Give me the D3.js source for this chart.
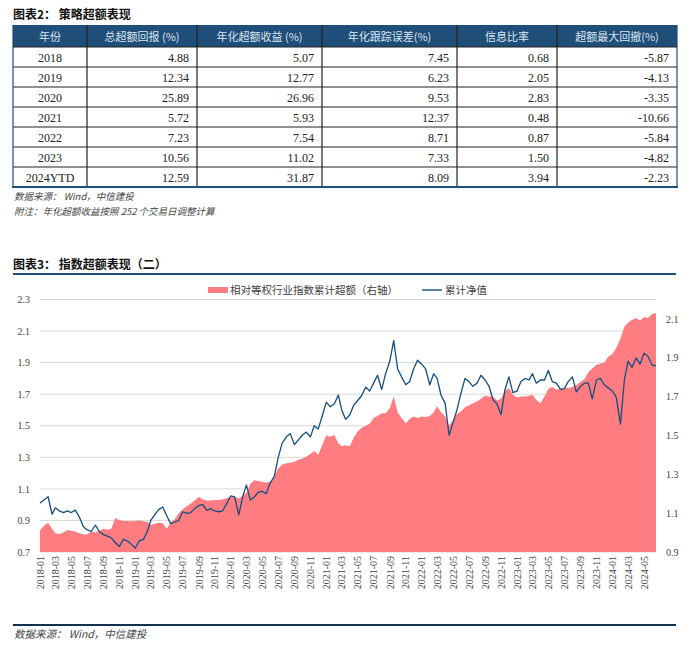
<!DOCTYPE html>
<html>
<head>
<meta charset="utf-8">
<script src="https://cdn.jsdelivr.net/npm/d3@7"></script>
<style>
body { margin: 0; background: #fff; }
svg text { font-family: "Liberation Serif", "Noto Sans CJK SC", serif; }
.cjk { font-family: "Noto Sans CJK SC", sans-serif !important; }
</style>
</head>
<body>
<div id="chart"></div>
<script>
// table 2 data
var tableHead = ["年份", "总超额回报 (%)", "年化超额收益 (%)", "年化跟踪误差(%)", "信息比率", "超额最大回撤(%)"];
var years = ["2018", "2019", "2020", "2021", "2022", "2023", "2024YTD"];
var totalExcess = ["4.88", "12.34", "25.89", "5.72", "7.23", "10.56", "12.59"];
var annualExcess = ["5.07", "12.77", "26.96", "5.93", "7.54", "11.02", "31.87"];
var trackingErr = ["7.45", "6.23", "9.53", "12.37", "8.71", "7.33", "8.09"];
var infoRatio = ["0.68", "2.05", "2.83", "0.48", "0.87", "1.50", "3.94"];
var maxDrawdown = ["-5.87", "-4.13", "-3.35", "-10.66", "-5.84", "-4.82", "-2.23"];

// chart 3 data : one value on the 1st and 16th of each month, 2018-01 .. 2024-06
var netValue = [1.01, 1.03, 1.05, 0.94, 0.98, 0.96, 0.95, 0.96, 0.95, 0.965,
  0.92, 0.86, 0.84, 0.83, 0.87, 0.83, 0.81, 0.80, 0.79, 0.76,
  0.735, 0.78, 0.77, 0.75, 0.725, 0.77, 0.78, 0.83, 0.90, 0.935,
  0.97, 0.985, 0.93, 0.88, 0.89, 0.90, 0.955, 0.945, 0.95, 0.975,
  0.995, 1.0, 0.965, 0.975, 0.96, 0.955, 0.96, 1.005, 1.055, 1.05,
  0.935, 1.05, 1.125, 1.03, 1.05, 1.08, 1.085, 1.07, 1.14, 1.18,
  1.30, 1.39, 1.43, 1.45, 1.38, 1.41, 1.44, 1.46, 1.43, 1.50,
  1.48, 1.56, 1.65, 1.62, 1.64, 1.695, 1.60, 1.54, 1.57, 1.63,
  1.66, 1.69, 1.745, 1.72, 1.77, 1.82, 1.73, 1.83, 1.91, 2.04,
  1.86, 1.81, 1.76, 1.78, 1.86, 1.915, 1.89, 1.86, 1.76, 1.83,
  1.80, 1.695, 1.64, 1.44, 1.52, 1.60, 1.71, 1.80, 1.78, 1.75,
  1.77, 1.82, 1.79, 1.75, 1.665, 1.64, 1.57, 1.73, 1.81, 1.71,
  1.72, 1.78, 1.80, 1.79, 1.83, 1.77, 1.79, 1.79, 1.85, 1.78,
  1.77, 1.73, 1.735, 1.78, 1.81, 1.715, 1.75, 1.77, 1.77, 1.67,
  1.79, 1.80, 1.76, 1.74, 1.72, 1.68, 1.51, 1.79, 1.91, 1.87,
  1.93, 1.89, 1.96, 1.94, 1.885, 1.88];
var relExcess = [1.01, 1.035, 1.05, 1.02, 0.996, 0.993, 1.0, 1.013, 1.01, 1.005,
  0.996, 0.99, 0.99, 1.005, 1.0, 1.01, 1.02, 1.015, 1.02, 1.075,
  1.065, 1.06, 1.06, 1.058, 1.06, 1.062, 1.058, 1.055, 1.04, 1.045,
  1.05, 1.048, 1.02, 1.05, 1.07, 1.10, 1.12, 1.134, 1.15, 1.165,
  1.185, 1.17, 1.165, 1.165, 1.168, 1.168, 1.17, 1.177, 1.182, 1.185,
  1.175, 1.19, 1.205, 1.25, 1.27, 1.265, 1.26, 1.258, 1.262, 1.29,
  1.33, 1.35, 1.357, 1.36, 1.365, 1.375, 1.38, 1.39, 1.405, 1.42,
  1.40, 1.45, 1.50, 1.494, 1.503, 1.46, 1.445, 1.45, 1.445, 1.49,
  1.52, 1.54, 1.55, 1.56, 1.59, 1.60, 1.615, 1.615, 1.64, 1.70,
  1.62, 1.59, 1.563, 1.585, 1.598, 1.59, 1.598, 1.595, 1.60, 1.62,
  1.65, 1.62, 1.598, 1.55, 1.58, 1.61, 1.625, 1.645, 1.655, 1.666,
  1.675, 1.69, 1.705, 1.70, 1.70, 1.68, 1.69, 1.73, 1.744, 1.71,
  1.695, 1.70, 1.70, 1.705, 1.71, 1.683, 1.666, 1.70, 1.74, 1.75,
  1.735, 1.74, 1.744, 1.744, 1.75, 1.76, 1.775, 1.79, 1.825, 1.845,
  1.864, 1.87, 1.875, 1.905, 1.92, 1.95, 2.0, 2.06, 2.08, 2.095,
  2.105, 2.09, 2.11, 2.105, 2.125, 2.13];
var leftTicks = [0.7, 0.9, 1.1, 1.3, 1.5, 1.7, 1.9, 2.1, 2.3];
var rightTicks = [0.9, 1.1, 1.3, 1.5, 1.7, 1.9, 2.1];

var W = 700, H = 652;
var navy = "#1F4E79";
var svg = d3.select("#chart").append("svg").attr("width", W).attr("height", H);

// ---------- table ----------
svg.append("text").attr("class", "cjk").attr("x", 13).attr("y", 19)
  .attr("font-size", 12).attr("font-weight", "bold").attr("fill", "#111")
  .text("图表2： 策略超额表现");

var colEdges = [13, 87, 197, 322, 457, 557, 677];
var columns = [years, totalExcess, annualExcess, trackingErr, infoRatio, maxDrawdown];
var rowY = d3.scaleBand().domain(years).range([47, 187]);

svg.append("rect").attr("x", 13).attr("y", 25).attr("width", 664).attr("height", 22).attr("fill", navy);
svg.selectAll("text.head").data(tableHead).enter().append("text")
  .attr("class", "head cjk")
  .attr("x", function(d, i) { return (colEdges[i] + colEdges[i + 1]) / 2; })
  .attr("y", 40.5)
  .attr("text-anchor", "middle").attr("font-size", 11).attr("fill", "#DDE6F2")
  .text(function(d) { return d; });

columns.forEach(function(col, ci) {
  svg.selectAll("text.c" + ci).data(col).enter().append("text")
    .attr("class", "c" + ci)
    .attr("x", ci == 0 ? (colEdges[0] + colEdges[1]) / 2 : colEdges[ci + 1] - 8)
    .attr("y", function(d, i) { return rowY(years[i]) + 14.5; })
    .attr("text-anchor", ci == 0 ? "middle" : "end")
    .attr("font-size", 12).attr("fill", "#222")
    .text(function(d) { return d; });
});

// grid of table
svg.selectAll("line.hrow").data(years.slice(1)).enter().append("line")
  .attr("x1", 13).attr("x2", 677)
  .attr("y1", function(d) { return rowY(d); }).attr("y2", function(d) { return rowY(d); })
  .attr("stroke", "#222").attr("stroke-width", 1.2);
svg.selectAll("line.vcol").data(colEdges).enter().append("line")
  .attr("x1", function(d) { return d; }).attr("x2", function(d) { return d; })
  .attr("y1", 25).attr("y2", 187)
  .attr("stroke", function(d, i) { return (i == 0 || i == colEdges.length - 1) ? navy : "#222"; })
  .attr("stroke-width", 1.2);
svg.append("line").attr("x1", 13).attr("x2", 677).attr("y1", 47).attr("y2", 47).attr("stroke", "#222").attr("stroke-width", 1.2);
svg.append("line").attr("x1", 12).attr("x2", 678).attr("y1", 187).attr("y2", 187).attr("stroke", navy).attr("stroke-width", 2);

svg.append("text").attr("class", "cjk").attr("x", 14).attr("y", 200)
  .attr("font-size", 9.5).attr("font-style", "italic").attr("fill", "#444")
  .text("数据来源： Wind，中信建投");
svg.append("text").attr("class", "cjk").attr("x", 14).attr("y", 214.5)
  .attr("font-size", 9.5).attr("font-style", "italic").attr("fill", "#444")
  .text("附注：年化超额收益按照 252 个交易日调整计算");

// ---------- chart 3 ----------
svg.append("text").attr("class", "cjk").attr("x", 13).attr("y", 269)
  .attr("font-size", 12).attr("font-weight", "bold").attr("fill", "#111")
  .text("图表3： 指数超额表现（二）");
svg.append("line").attr("x1", 13).attr("x2", 676).attr("y1", 274).attr("y2", 274)
  .attr("stroke", navy).attr("stroke-width", 2.2);

var dates = [];
d3.timeMonth.range(new Date(2018, 0, 1), new Date(2024, 6, 1)).forEach(function(m) {
  dates.push(m);
  dates.push(new Date(m.getFullYear(), m.getMonth(), 16));
});
dates = dates.slice(0, netValue.length);

var plotL = 40, plotR = 656, plotT = 299.5, plotB = 552;
var x = d3.scaleTime().domain([dates[0], dates[dates.length - 1]]).range([plotL, plotR]);
var yL = d3.scaleLinear().domain([0.7, 2.3]).range([plotB, plotT]);
var yR = d3.scaleLinear().domain([0.9, 2.2]).range([plotB, plotT]);

// gridlines
svg.append("g").selectAll("line").data(leftTicks).enter().append("line")
  .attr("x1", plotL).attr("x2", plotR)
  .attr("y1", function(d) { return yL(d); }).attr("y2", function(d) { return yL(d); })
  .attr("stroke", "#D9D9D9").attr("stroke-width", 1);

var area = d3.area()
  .x(function(d, i) { return x(dates[i]); })
  .y0(plotB)
  .y1(function(d) { return yR(d); });
svg.append("path").datum(relExcess).attr("d", area).attr("fill", "#FF7C80");

var line = d3.line()
  .x(function(d, i) { return x(dates[i]); })
  .y(function(d) { return yL(d); });
svg.append("path").datum(netValue).attr("d", line)
  .attr("fill", "none").attr("stroke", "#134F82").attr("stroke-width", 1.3)
  .attr("stroke-linejoin", "round");

// left axis
var axL = svg.append("g").attr("transform", "translate(" + (plotL - 7) + ",0)")
  .call(d3.axisLeft(yL).tickValues(leftTicks).tickFormat(d3.format(".1f")).tickSize(0));
axL.select(".domain").remove();
axL.selectAll("text").attr("font-size", 10).attr("fill", "#444").attr("font-family", "Liberation Serif");

// right axis
var axR = svg.append("g").attr("transform", "translate(" + (plotR + 7) + ",0)")
  .call(d3.axisRight(yR).tickValues(rightTicks).tickFormat(d3.format(".1f")).tickSize(0));
axR.select(".domain").remove();
axR.selectAll("text").attr("font-size", 10).attr("fill", "#444").attr("font-family", "Liberation Serif");

// x axis, every two months
var xTicks = d3.timeMonth.every(2).range(new Date(2018, 0, 1), new Date(2024, 6, 1));
var axX = svg.append("g").attr("transform", "translate(0," + plotB + ")")
  .call(d3.axisBottom(x).tickValues(xTicks).tickFormat(d3.timeFormat("%Y-%m")).tickSize(0));
axX.select(".domain").remove();
axX.selectAll("text")
  .attr("font-size", 10).attr("fill", "#444").attr("font-family", "Liberation Serif")
  .attr("transform", "rotate(-90)")
  .attr("text-anchor", "end")
  .attr("dx", "-4px").attr("dy", "0.32em").attr("x", 0).attr("y", 0);

// legend
var lg = svg.append("g");
lg.append("rect").attr("x", 208).attr("y", 287).attr("width", 20).attr("height", 6).attr("fill", "#FF7C80");
lg.append("text").attr("class", "cjk").attr("x", 230).attr("y", 294)
  .attr("font-size", 10.5).attr("fill", "#404040").text("相对等权行业指数累计超额（右轴）");
lg.append("line").attr("x1", 422).attr("x2", 442).attr("y1", 290).attr("y2", 290)
  .attr("stroke", "#134F82").attr("stroke-width", 1.4);
lg.append("text").attr("class", "cjk").attr("x", 445).attr("y", 294)
  .attr("font-size", 10.5).attr("fill", "#404040").text("累计净值");

// source
svg.append("line").attr("x1", 13).attr("x2", 676).attr("y1", 625).attr("y2", 625)
  .attr("stroke", "#13304E").attr("stroke-width", 2);
svg.append("text").attr("class", "cjk").attr("x", 14).attr("y", 638)
  .attr("font-size", 10.5).attr("font-style", "italic").attr("fill", "#444")
  .text("数据来源： Wind，中信建投");
</script>
</body>
</html>
